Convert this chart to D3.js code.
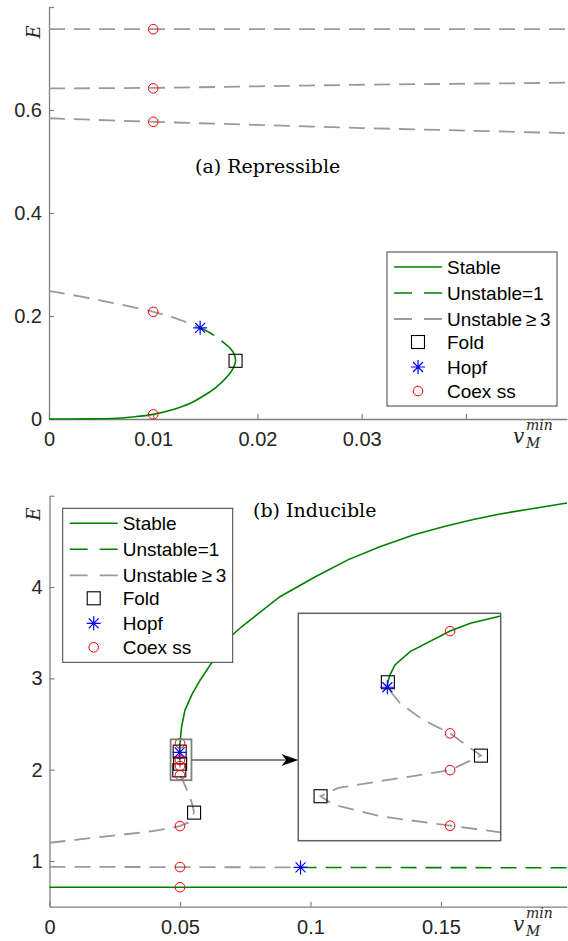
<!DOCTYPE html>
<html>
<head>
<meta charset="utf-8">
<script src="https://cdn.jsdelivr.net/npm/d3@7"></script>
<style>
  body { margin: 0; background: #fff; }
  svg { display: block; }
</style>
</head>
<body>
<svg id="chart" width="568" height="941"></svg>
<script>
// ---------- panel (a) Repressible : [v_M^min, E]
const repXTicks = [0, 0.01, 0.02, 0.03, 0.04]
const repXLabels = ['0', '0.01', '0.02', '0.03', '']
const repYTicks = [0, 0.2, 0.4, 0.6, 0.8]
const repYLabels = ['0', '0.2', '0.4', '0.6', '']

const repTopGray = [[0, 0.757], [0.0497, 0.757]]
const repMidGray = [[0, 0.642], [0.01, 0.643], [0.02, 0.646], [0.03, 0.649], [0.04, 0.651], [0.0497, 0.653]]
const repLowGray = [[0, 0.584], [0.01, 0.577], [0.02, 0.571], [0.03, 0.565], [0.04, 0.56], [0.0497, 0.555]]
const repStable = [[0, 0], [0.004, 0.0003], [0.006, 0.001], [0.008, 0.004], [0.01, 0.009], [0.012, 0.019],
  [0.0135, 0.03], [0.015, 0.047], [0.016, 0.061], [0.017, 0.08], [0.0176, 0.096], [0.0179, 0.113],
  [0.0177, 0.129], [0.0172, 0.141]]
const repUnstable1 = [[0.0145, 0.177], [0.0158, 0.163], [0.0172, 0.141]]
const repBranchGray = [[0, 0.249], [0.005, 0.23], [0.01, 0.208], [0.0125, 0.193], [0.0145, 0.177]]
const repFolds = [[0.0179, 0.113]]
const repHopfs = [[0.0145, 0.177]]
const repCoex = [[0.01, 0.757], [0.01, 0.642], [0.01, 0.577], [0.01, 0.208], [0.01, 0.009]]

// ---------- panel (b) Inducible
const indXTicks = [0, 0.05, 0.1, 0.15]
const indXLabels = ['0', '0.05', '0.1', '0.15']
const indYTicks = [1, 2, 3, 4, 5]
const indYLabels = ['1', '2', '3', '4', '']

const indStableLow = [[0, 0.713], [0.1983, 0.713]]
const indGrayLow = [[0, 0.937], [0.0962, 0.93]]
const indUnstable1Low = [[0.0962, 0.93], [0.1983, 0.926]]
const indGrayS = [[0, 1.2], [0.01, 1.232], [0.02, 1.264], [0.03, 1.296], [0.04, 1.33], [0.045, 1.352],
  [0.05, 1.383], [0.053, 1.42], [0.0554, 1.53], [0.0549, 1.6], [0.0538, 1.7], [0.0523, 1.8],
  [0.0513, 1.87], [0.0501, 1.928], [0.05, 1.94], [0.049862, 1.957], [0.049769, 1.978],
  [0.049744, 1.993], [0.049779, 2.008], [0.049862, 2.02], [0.05, 2.04], [0.050061, 2.066],
  [0.05, 2.106], [0.049947, 2.13], [0.049901, 2.16], [0.049876, 2.189]]
const indStableUp = [[0.049876, 2.189], [0.049877, 2.198], [0.049881, 2.211], [0.049891, 2.229],
  [0.049921, 2.253], [0.05, 2.29], [0.05004, 2.304], [0.0501, 2.317], [0.0506, 2.47], [0.0519, 2.65],
  [0.0545, 2.82], [0.0577, 2.98], [0.0628, 3.2], [0.0679, 3.42], [0.0736, 3.565], [0.0883, 3.894],
  [0.1017, 4.11], [0.1145, 4.3], [0.1266, 4.44], [0.1394, 4.57], [0.1509, 4.66], [0.1624, 4.74],
  [0.1726, 4.8], [0.1854, 4.86], [0.1983, 4.92]]
const indFolds = [[0.0554, 1.53], [0.049877, 2.198], [0.050061, 2.066], [0.049744, 1.993]]
const indHopfs = [[0.049876, 2.189], [0.0962, 0.93]]
const indCoex = [[0.05, 0.713], [0.05, 0.934], [0.05, 1.383], [0.05, 1.94], [0.05, 2.04], [0.05, 2.106], [0.05, 2.29]]

// zoomed region shown in the inset: [vMin, vMax, EMin, EMax]
const zoomBox = [0.0464, 0.0544, 1.885, 2.332]
const insetDomain = [0.0497, 0.0501, 1.913, 2.322]

const legendLabels = ['Stable', 'Unstable=1', 'Unstable\u2009\u2265\u20093', 'Fold', 'Hopf', 'Coex ss']

// ---------- styles
const grayC = '#9a9a9a'
const greenC = '#008000'
const axisC = '#808080'
const textC = '#262626'
const sans = '"Liberation Sans", Arial, sans-serif'
const serif = '"DejaVu Serif", serif'

const svg = d3.select('#chart')

function drawAxes(g, x, y, xt, xl, yt, yl) {
  const y0 = y.range()[0]
  const x0 = x.range()[0]
  const gx = g.append('g').attr('transform', `translate(0,${y0})`)
    .call(d3.axisBottom(x).tickValues(xt).tickFormat((d, i) => xl[i]).tickSizeInner(-5).tickSizeOuter(0).tickPadding(13))
  const gy = g.append('g').attr('transform', `translate(${x0},0)`)
    .call(d3.axisLeft(y).tickValues(yt).tickFormat((d, i) => yl[i]).tickSizeInner(-5).tickSizeOuter(0).tickPadding(7))
  for (const a of [gx, gy]) {
    a.select('.domain').attr('stroke', axisC).attr('stroke-width', 1.3)
    a.selectAll('.tick line').attr('stroke', axisC).attr('stroke-width', 1.2)
    a.selectAll('.tick text').attr('fill', textC).style('font-family', sans).style('font-size', '20px')
  }
}

function drawBranch(g, x, y, data, type, curve) {
  const line = d3.line().x((d) => x(d[0])).y((d) => y(d[1])).curve(curve || d3.curveLinear)
  g.append('path').datum(data).attr('d', line)
    .attr('fill', 'none')
    .attr('stroke', type === 'gray' ? grayC : greenC)
    .attr('stroke-width', type === 'gray' ? 1.8 : 1.6)
    .attr('stroke-dasharray', type === 'stable' ? null : '16,9')
}

function fold(g, cx, cy) {
  g.append('rect').attr('x', cx - 6.5).attr('y', cy - 6.5).attr('width', 13).attr('height', 13)
    .attr('fill', 'none').attr('stroke', '#000').attr('stroke-width', 1.1)
}
function hopf(g, cx, cy) {
  const r = 7, d = 5
  g.append('path')
    .attr('d', `M${cx - r},${cy}H${cx + r}M${cx},${cy - r}V${cy + r}M${cx - d},${cy - d}L${cx + d},${cy + d}M${cx - d},${cy + d}L${cx + d},${cy - d}`)
    .attr('stroke', '#0000ff').attr('stroke-width', 1.2).attr('fill', 'none')
}
function coex(g, cx, cy) {
  g.append('circle').attr('cx', cx).attr('cy', cy).attr('r', 4.8)
    .attr('fill', 'none').attr('stroke', '#ff0000').attr('stroke-width', 1)
}

function drawMarkers(g, x, y, folds, hopfs, coexs) {
  folds.forEach((d) => fold(g, x(d[0]), y(d[1])))
  hopfs.forEach((d) => hopf(g, x(d[0]), y(d[1])))
  coexs.forEach((d) => coex(g, x(d[0]), y(d[1])))
}

function drawLegend(g, lx, ly) {
  const rows = [15, 41, 67, 90, 115, 139]
  g.append('rect').attr('x', lx).attr('y', ly).attr('width', 170).attr('height', 154)
    .attr('fill', '#fff').attr('stroke', '#404040').attr('stroke-width', 1)
  legendLabels.forEach((lab, i) => {
    const cy = ly + rows[i]
    if (i < 3) {
      g.append('line').attr('x1', lx + 7).attr('x2', lx + 55).attr('y1', cy).attr('y2', cy)
        .attr('stroke', i === 2 ? grayC : greenC).attr('stroke-width', i === 2 ? 1.8 : 1.6)
        .attr('stroke-dasharray', i === 0 ? null : '18,12')
    } else if (i === 3) fold(g, lx + 31, cy)
    else if (i === 4) hopf(g, lx + 31, cy)
    else coex(g, lx + 31, cy)
    g.append('text').attr('x', lx + 60).attr('y', cy).attr('dy', '0.35em')
      .attr('fill', '#000').style('font-family', sans).style('font-size', '19px').text(lab)
  })
}

function axisLabels(g, x, y, topY) {
  const y0 = y.range()[0]
  const t = g.append('text').attr('fill', textC).style('font-family', serif).style('font-style', 'italic')
  t.append('tspan').attr('x', 513).attr('y', y0 + 24).style('font-size', '20px').text('v')
  g.append('text').attr('x', 526).attr('y', y0 + 11).attr('fill', textC)
    .style('font-family', serif).style('font-style', 'italic').style('font-size', '14px').text('min')
  g.append('text').attr('x', 526).attr('y', y0 + 29).attr('fill', textC)
    .style('font-family', serif).style('font-style', 'italic').style('font-size', '14px').text('M')
  g.append('text').attr('transform', `translate(40,${topY}) rotate(-90)`)
    .attr('text-anchor', 'middle').attr('fill', textC)
    .style('font-family', serif).style('font-style', 'italic').style('font-size', '18px').text('E')
}

// ---------- panel (a)
const gA = svg.append('g')
const xA = d3.scaleLinear([0, 0.0497], [49, 567])
const yA = d3.scaleLinear([0, 0.8], [419, 7])
drawAxes(gA, xA, yA, repXTicks, repXLabels, repYTicks, repYLabels)
const cr = d3.curveCatmullRom
drawBranch(gA, xA, yA, repTopGray, 'gray')
drawBranch(gA, xA, yA, repMidGray, 'gray', cr)
drawBranch(gA, xA, yA, repLowGray, 'gray', cr)
drawBranch(gA, xA, yA, repBranchGray, 'gray', cr)
drawBranch(gA, xA, yA, repUnstable1, 'unstable1', cr)
drawBranch(gA, xA, yA, repStable, 'stable', cr)
drawMarkers(gA, xA, yA, repFolds, repHopfs, repCoex)
gA.append('text').attr('x', 195).attr('y', 173).attr('fill', '#000')
  .style('font-family', serif).style('font-size', '19px').text('(a) Repressible')
drawLegend(gA, 387, 252)
axisLabels(gA, xA, yA, 32)

// ---------- panel (b)
const gB = svg.append('g')
const xB = d3.scaleLinear([0, 0.1983], [49.5, 567])
const yB = d3.scaleLinear([0.5, 5], [906.7, 495.7])
drawAxes(gB, xB, yB, indXTicks, indXLabels, indYTicks, indYLabels)
drawBranch(gB, xB, yB, indStableLow, 'stable')
drawBranch(gB, xB, yB, indGrayLow, 'gray')
drawBranch(gB, xB, yB, indUnstable1Low, 'unstable1')
drawBranch(gB, xB, yB, indGrayS, 'gray')
drawBranch(gB, xB, yB, indStableUp, 'stable')
drawMarkers(gB, xB, yB, indFolds, indHopfs, indCoex)

// zoom box
gB.append('rect')
  .attr('x', xB(zoomBox[0])).attr('y', yB(zoomBox[3]))
  .attr('width', xB(zoomBox[1]) - xB(zoomBox[0])).attr('height', yB(zoomBox[2]) - yB(zoomBox[3]))
  .attr('fill', 'none').attr('stroke', '#808080').attr('stroke-width', 1.8)

// inset
const inL = 298.3, inR = 500.7, inT = 613.3, inB = 840.7
const xI = d3.scaleLinear([insetDomain[0], insetDomain[1]], [inL, inR])
const yI = d3.scaleLinear([insetDomain[2], insetDomain[3]], [inB, inT])
svg.append('defs').append('clipPath').attr('id', 'insetClip')
  .append('rect').attr('x', inL).attr('y', inT).attr('width', inR - inL).attr('height', inB - inT)
const gI = gB.append('g')
gI.append('rect').attr('x', inL).attr('y', inT).attr('width', inR - inL).attr('height', inB - inT).attr('fill', '#fff')
const gIc = gI.append('g').attr('clip-path', 'url(#insetClip)')
drawBranch(gIc, xI, yI, indGrayS, 'gray')
drawBranch(gIc, xI, yI, indStableUp, 'stable')
const inside = (d) => d[0] >= insetDomain[0] && d[0] <= insetDomain[1] && d[1] >= insetDomain[2] && d[1] <= insetDomain[3]
drawMarkers(gI, xI, yI, indFolds.filter(inside), indHopfs.filter(inside), indCoex.filter(inside))
gI.append('rect').attr('x', inL).attr('y', inT).attr('width', inR - inL).attr('height', inB - inT)
  .attr('fill', 'none').attr('stroke', '#606060').attr('stroke-width', 1.5)

// arrow from zoom box to inset
const ay = yB(2.106)
const ax0 = xB(zoomBox[1])
gB.append('line').attr('x1', ax0).attr('x2', inL - 10).attr('y1', ay).attr('y2', ay)
  .attr('stroke', '#606060').attr('stroke-width', 1.5)
gB.append('path')
  .attr('d', `M${inL},${ay}L${inL - 17},${ay - 6}L${inL - 12},${ay}L${inL - 17},${ay + 6}Z`)
  .attr('fill', '#000')

gB.append('text').attr('x', 253).attr('y', 517).attr('fill', '#000')
  .style('font-family', serif).style('font-size', '19px').text('(b) Inducible')
drawLegend(gB, 62.7, 508.3)
axisLabels(gB, xB, yB, 514)
</script>
</body>
</html>
